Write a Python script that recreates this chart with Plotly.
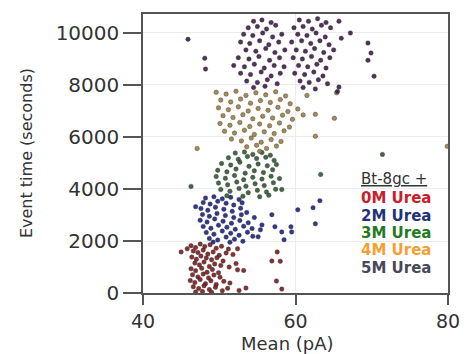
import plotly.graph_objects as go

# ---- data (Mean pA, Event time s) ----
x_0M = [45.0,45.8,46.3,46.9,47.5,48.1,48.8,49.6,50.3,51.2,46.6,47.2,47.9,48.5,49.2,50.0,50.9,51.8,
        46.4,47.0,47.6,48.3,49.0,49.7,50.5,46.8,47.4,48.0,48.7,49.4,50.2,51.3,52.2,46.3,46.9,47.7,
        48.4,49.1,49.9,52.4,53.2,46.5,47.2,47.9,48.6,49.3,50.1,46.2,46.8,47.5,48.2,48.9,49.6,50.6,
        51.4,46.6,47.3,48.0,48.7,49.5,50.4,51.1,46.9,47.8,49.0,52.6,53.5,57.6,56.9,58.0,57.5,58.2,52.4]
y_0M = [1580,1700,1820,1750,1880,1790,1860,1720,1800,1690,1620,1560,1650,1500,1580,1450,1540,1480,
        1380,1300,1420,1350,1280,1360,1230,1150,1080,1190,1020,1120,1060,1000,1130,930,860,950,
        800,900,780,890,870,700,620,730,580,690,610,480,400,520,360,470,330,450,
        380,240,170,280,130,220,90,180,40,60,30,100,190,1580,1230,1220,460,150,1700]

x_2M = [48.2,49.3,50.4,51.5,52.6,47.9,48.8,49.8,50.9,51.9,53.0,47.6,48.5,49.5,50.6,51.7,52.8,53.6,
        47.8,48.7,49.7,50.8,51.9,52.9,47.5,48.4,49.4,50.5,51.6,52.7,53.8,47.9,48.9,49.9,51.0,52.1,
        53.2,54.3,48.3,49.3,50.4,51.5,52.6,53.7,48.7,49.8,50.9,52.0,53.1,54.4,49.2,51.4,55.6,55.4,
        55.1,56.9,57.3,58.2,59.4,59.5,58.5,60.3,62.3,63.2,62.6,46.9,54.6]
y_2M = [3650,3700,3620,3680,3600,3480,3420,3530,3450,3380,3470,3250,3180,3300,3220,3140,3260,3100,
        3020,2950,3060,2980,2900,3010,2800,2730,2850,2760,2680,2790,2700,2560,2490,2610,2530,2450,
        2570,2480,2330,2260,2380,2300,2220,2340,2100,2040,2150,2070,1990,2180,1960,1950,2620,2430,
        2160,3010,2550,2350,2550,2350,2050,3200,3280,3550,2660,3320,2900]

x_3M = [52.1,53.3,54.4,55.6,56.7,51.2,52.5,53.7,54.9,56.1,57.2,50.3,51.5,52.7,53.9,55.1,56.3,57.5,
        49.8,51.0,52.2,53.4,54.6,55.8,57.0,49.6,50.8,52.0,53.2,54.4,55.6,56.8,57.9,49.9,51.1,52.3,
        53.5,54.7,55.9,57.1,50.2,51.4,52.6,53.8,55.0,56.2,57.4,51.0,53.1,55.3,56.5,46.3,63.3,58.2,71.4]
y_3M = [5380,5420,5330,5400,5300,5200,5140,5250,5170,5220,5100,4980,4920,5030,4870,4960,4890,4940,
        4720,4660,4770,4610,4700,4630,4740,4480,4410,4520,4360,4450,4380,4490,4400,4230,4160,4270,
        4110,4200,4130,4240,3980,3910,4020,3860,3950,3880,3990,3740,3720,3700,3760,4100,4560,3980,5330]

x_4M = [49.6,50.9,52.2,53.5,54.8,56.1,57.4,58.7,50.2,51.5,52.8,54.1,55.4,56.7,58.0,59.3,49.9,51.2,
        52.5,53.8,55.1,56.4,57.7,59.0,60.3,50.5,51.8,53.1,54.4,55.7,57.0,58.3,59.6,61.0,50.1,51.4,
        52.7,54.0,55.3,56.6,57.9,59.2,50.7,52.0,53.3,54.6,55.9,57.2,58.5,51.6,52.9,54.2,55.5,56.8,
        58.1,53.6,54.9,56.2,57.5,55.3,47.1,65.1,62.6,62.6,79.9,61.5,65.4]
y_4M = [7720,7650,7760,7600,7700,7620,7740,7580,7420,7350,7460,7300,7400,7330,7440,7280,7120,7050,
        7160,7000,7100,7030,7140,6980,7080,6820,6750,6860,6700,6800,6730,6840,6680,6850,6520,6450,
        6560,6400,6500,6430,6540,6380,6220,6150,6260,6100,6200,6130,6240,5920,5850,5960,5800,5900,
        5830,5620,5680,5560,5650,5450,5560,6720,6030,6870,5640,7600,7700]

x_5M = [54.5,55.6,56.8,53.8,55.0,56.2,57.4,53.2,54.4,55.7,57.0,58.2,52.8,54.0,55.3,56.5,57.8,53.5,
        54.8,56.1,57.3,58.6,52.5,53.9,55.2,56.6,57.9,51.9,53.3,54.6,55.9,57.2,58.5,52.8,54.1,55.5,
        56.8,58.0,53.6,55.0,56.3,57.6,54.5,56.0,
        60.5,61.7,62.9,64.0,59.8,61.0,62.2,63.4,64.6,60.3,61.5,62.7,63.9,59.5,60.8,62.0,63.2,64.4,
        60.1,61.3,62.5,63.7,65.0,59.7,60.9,62.1,63.3,64.5,60.4,61.6,62.8,64.0,59.9,61.2,62.4,63.6,
        60.6,61.8,63.0,64.2,61.0,62.6,65.7,66.0,
        45.9,48.1,48.2,67.2,69.5,69.9,69.5,70.3,65.7,65.5]
y_5M = [10450,10500,10400,10200,10250,10150,10300,9950,9900,10000,9850,9950,9650,9600,9700,9550,9650,9350,
        9300,9400,9250,9350,9050,9000,9100,8950,9050,8750,8700,8800,8650,8750,8700,8450,8400,8500,
        8350,8450,8150,8100,8200,8050,7900,7950,
        10500,10450,10550,10400,10200,10250,10150,10300,10200,9950,9900,10000,9850,9650,9700,9600,9700,9550,
        9350,9300,9400,9250,9350,9050,9000,9100,8950,9050,8750,8700,8800,8650,8450,8400,8500,8350,
        8150,8100,8200,8050,7900,7850,10450,9800,
        9760,9030,8610,10000,9610,9230,8950,8340,7920,7750]

series = [
    ("0M Urea", x_0M, y_0M, "#7a1c1f"),
    ("2M Urea", x_2M, y_2M, "#1c2480"),
    ("3M Urea", x_3M, y_3M, "#2f5a30"),
    ("4M Urea", x_4M, y_4M, "#9b8042"),
    ("5M Urea", x_5M, y_5M, "#3f1c4a"),
]

legend_title = "Bt-8gc +"
legend_colors = ["#c8202a", "#1f3478", "#237a23", "#f5a033", "#484858"]

fig = go.Figure()
for name, xs, ys, col in series:
    fig.add_trace(go.Scatter(
        x=xs, y=ys, mode="markers", name=name, cliponaxis=False,
        marker=dict(size=4.5, color=col, opacity=0.9, line=dict(width=0.4, color="#222222")),
    ))

fig.update_layout(
    width=472, height=354,
    margin=dict(l=143, r=12, t=13, b=61),
    plot_bgcolor="white", paper_bgcolor="white",
    showlegend=False,
    xaxis=dict(range=[40, 80], tickvals=[40, 60, 80], ticks="outside", ticklen=10, tickcolor="#555555",
               tickwidth=1.5, showline=True, linecolor="#555555", linewidth=1.5, mirror=True,
               showgrid=True, gridcolor="#ececec", zeroline=False,
               tickfont=dict(family="DejaVu Sans", size=19, color="#333333")),
    yaxis=dict(range=[0, 10730], tickvals=[0, 2000, 4000, 6000, 8000, 10000], tickformat="d",
               ticks="outside", ticklen=18, tickcolor="#555555", tickwidth=1.5, showline=True,
               linecolor="#555555", linewidth=1.5, mirror=True, showgrid=True, gridcolor="#ececec",
               zeroline=False, tickfont=dict(family="DejaVu Sans", size=20, color="#333333")),
)

anns = [
    dict(text="Event time (seconds)", x=-121/317, y=0.5, xref="paper", yref="paper", textangle=-90,
         showarrow=False, font=dict(family="DejaVu Sans", size=16, color="#333333"),
         xanchor="center", yanchor="middle"),
    dict(text="Mean (pA)", x=(293-143)/317, y=-(344-293)/280, xref="paper", yref="paper",
         showarrow=False, font=dict(family="DejaVu Sans", size=18, color="#333333"),
         xanchor="center", yanchor="middle"),
    dict(text="<u>" + legend_title + "</u>", x=(367-143)/317, y=(293-179)/280, xref="paper", yref="paper",
         showarrow=False, font=dict(family="DejaVu Sans", size=15, color="#333333"),
         xanchor="left", yanchor="middle"),
]
for i, (name, _, _, _) in enumerate(series):
    cy = 198 + i * 17.4
    anns.append(dict(text="<b>" + name + "</b>", x=(367-143)/317, y=(293-cy)/280, xref="paper",
                     yref="paper", showarrow=False,
                     font=dict(family="DejaVu Sans", size=15, color=legend_colors[i]),
                     xanchor="left", yanchor="middle"))
fig.update_layout(annotations=anns)

fig.write_html("out.html")
